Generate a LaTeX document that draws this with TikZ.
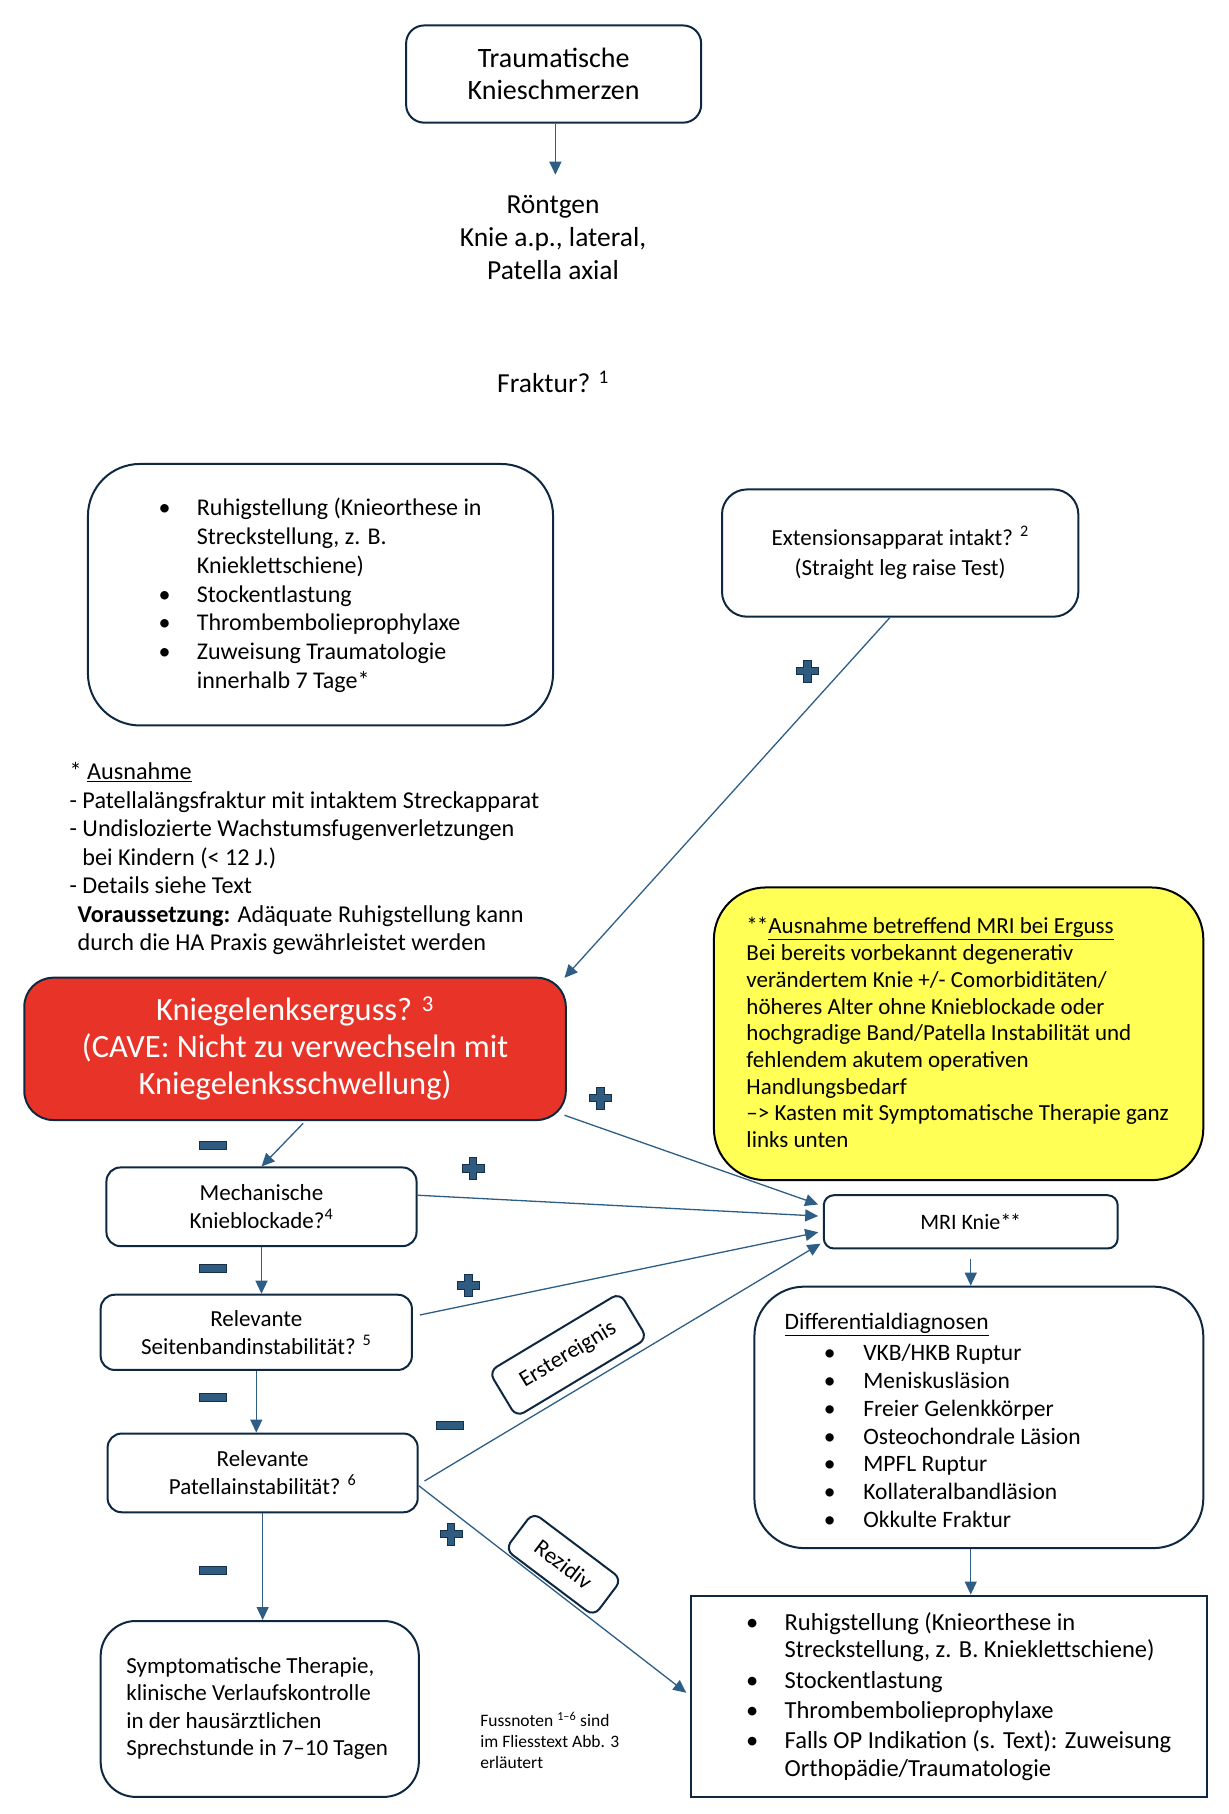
\documentclass[tikz,border=0pt]{standalone}
\usepackage{fontspec}
\setmainfont{Carlito}
\usetikzlibrary{arrows.meta,calc}
\newdimen\DU \DU=1.157pt
\definecolor{navy}{HTML}{0E2841}
\definecolor{arrc}{HTML}{2E5E86}
\definecolor{pmfill}{HTML}{2F5B80}
\definecolor{pmdraw}{HTML}{16304A}
\definecolor{redbox}{HTML}{E83428}
\definecolor{yelbox}{HTML}{FFFF55}
\newcommand\Bitem[2]{\hspace*{#1\DU}\makebox[0pt][c]{•}\hspace*{#2\DU}}
\newcommand\Bcont[1]{\hspace*{#1\DU}}
\newcommand\fsz[2]{\fontsize{#1}{#2}\selectfont}
\tikzset{
  plussign/.pic={\path[fill=pmfill,draw=pmdraw,line width=1pt]
    (-3.2,-9.5) -- (3.2,-9.5) -- (3.2,-3.2) -- (9.5,-3.2) -- (9.5,3.2) -- (3.2,3.2) -- (3.2,9.5)
    -- (-3.2,9.5) -- (-3.2,3.2) -- (-9.5,3.2) -- (-9.5,-3.2) -- (-3.2,-3.2) -- cycle;},
  minussign/.pic={\path[fill=pmfill,draw=pmdraw,line width=1pt] (-12,-3.4) rectangle (12,3.4);}
}
\begin{document}
\begin{tikzpicture}[x=1.157pt,y=-1.157pt,
  box/.style={draw=navy, line width=2pt, fill=white, inner sep=0pt, align=center},
  txt/.style={inner sep=0pt, align=left, anchor=west},
  arr/.style={draw=arrc, line width=1.3pt, -{Triangle[length=13pt,width=12pt]}},
  lbl/.style={draw=navy, line width=2pt, fill=white, rounded corners=9pt, inner sep=0pt, font={\fsz{23}{27}}}
]
\fill[white] (0,0) rectangle (1061.4,1567.8);
\useasboundingbox (0,0) rectangle (1061.4,1567.8);

% top
\node[box, rounded corners=18pt, minimum width=255*\DU, minimum height=84*\DU, font={\fsz{28}{32.4}}] (A) at (478.5,64) {Traumatische\\Knieschmerzen};
\node[inner sep=0pt, align=center, font={\fsz{27.5}{33}}] (xray) at (478,205.5) {Röntgen\\Knie a.p., lateral,\\Patella axial};
\node[inner sep=0pt, font={\fsz{27.5}{33}}] (frak) at (478,330) {Fraktur? \textsuperscript{1}};

% left fracture box
\node[box, rounded corners=52pt, minimum width=402*\DU, minimum height=226*\DU] (B) at (277,514) {};
\node[txt, font={\fsz{24}{28.7}}] (Btext) at (142,514.5) {\Bitem{0}{28}Ruhigstellung (Knieorthese in\\\Bcont{28}Streckstellung, z. B.\\\Bcont{28}Knieklettschiene)\\\Bitem{0}{28}Stockentlastung\\\Bitem{0}{28}Thrombembolieprophylaxe\\\Bitem{0}{28}Zuweisung Traumatologie\\\Bcont{28}innerhalb 7 Tage*};

\node[txt, font={\fsz{24.2}{28.5}}] (aus) at (60,742) {* \underline{Ausnahme}\\- Patellalängsfraktur mit intaktem Streckapparat\\- Undislozierte Wachstumsfugenverletzungen\\\Bcont{11}bei Kindern (< 12 J.)\\- Details siehe Text\\\Bcont{7}\textbf{Voraussetzung:} Adäquate Ruhigstellung kann\\\Bcont{7}durch die HA Praxis gewährleistet werden};

% extension box
\node[box, rounded corners=25pt, minimum width=308*\DU, minimum height=110*\DU, font={\fsz{23}{30}}] (C) at (778,478) {Extensionsapparat intakt? \textsuperscript{2}\\(Straight leg raise Test)};

% red box
\node[box, fill=redbox, text=white, rounded corners=29pt, minimum width=468*\DU, minimum height=123*\DU, font={\fsz{32.5}{37}}] (D) at (255,906.5) {Kniegelenkserguss? \textsuperscript{3}\\(CAVE: Nicht zu verwechseln mit\\Kniegelenksschwellung)};

% yellow box
\node[box, fill=yelbox, draw=black, rounded corners=52pt, minimum width=423*\DU, minimum height=253*\DU] (E) at (828.5,893.5) {};
\node[txt, font={\fsz{23}{26.7}}] (Etext) at (645,892.5) {*\kern-1pt*\underline{Ausnahme betreffend MRI bei Erguss}\\Bei bereits vorbekannt degenerativ\\verändertem Knie +/- Comorbiditäten/\\höheres Alter ohne Knieblockade oder\\hochgradige Band/Patella Instabilität und\\fehlendem akutem operativen\\Handlungsbedarf\\–> Kasten mit Symptomatische Therapie ganz\\links unten};

% question chain
\node[box, rounded corners=14pt, minimum width=268*\DU, minimum height=68*\DU, font={\fsz{23}{28}}] (F) at (226,1043) {Mechanische\\Knieblockade?\textsuperscript{4}};
\node[box, rounded corners=14pt, minimum width=269*\DU, minimum height=65*\DU, font={\fsz{23}{28}}] (G) at (221.5,1151.5) {Relevante\\Seitenbandinstabilität? \textsuperscript{5}};
\node[box, rounded corners=14pt, minimum width=268*\DU, minimum height=68*\DU, font={\fsz{23}{28}}] (H) at (227,1273) {Relevante\\Patellainstabilität? \textsuperscript{6}};

\node[box, rounded corners=35pt, minimum width=275*\DU, minimum height=152*\DU] (I) at (224.5,1477) {};
\node[txt, font={\fsz{23}{27.4}}] (Itext) at (109,1476.5) {Symptomatische Therapie,\\klinische Verlaufskontrolle\\in der hausärztlichen\\Sprechstunde in 7–10 Tagen};

\node[txt, font={\fsz{17.5}{20.8}}] (foot) at (415,1504) {Fussnoten \textsuperscript{1–6} sind\\im Fliesstext Abb. 3\\erläutert};

% right side
\node[box, rounded corners=10pt, minimum width=254*\DU, minimum height=46*\DU, font={\fsz{22}{26}}] (J) at (839,1056) {MRI Knie*\kern-1pt*};
\node[box, rounded corners=50pt, minimum width=388*\DU, minimum height=226*\DU] (K) at (846,1225) {};
\node[txt, font={\fsz{23.5}{27.8}}] (Ktext) at (678,1227.5) {\underline{Differentialdiagnosen}\\[3.5pt]\Bitem{39}{29}VKB/HKB Ruptur\\\Bitem{39}{29}Meniskusläsion\\\Bitem{39}{29}Freier Gelenkkörper\\\Bitem{39}{29}Osteochondrale Läsion\\\Bitem{39}{29}MPFL Ruptur\\\Bitem{39}{29}Kollateralbandläsion\\\Bitem{39}{29}Okkulte Fraktur};
\node[box, minimum width=446*\DU, minimum height=174*\DU] (L) at (820,1466) {};
\node[txt, font={\fsz{24.5}{27.8}}] (Ltext) at (650,1466) {\Bitem{0}{28}Ruhigstellung (Knieorthese in\\\Bcont{28}Streckstellung, z. B. Knieklettschiene)\\[2.3pt]\Bitem{0}{28}Stockentlastung\\[2.3pt]\Bitem{0}{28}Thrombembolieprophylaxe\\[2.3pt]\Bitem{0}{28}Falls OP Indikation (s. Text): Zuweisung\\\Bcont{28}Orthopädie/Traumatologie};

% connectors
\coordinate (xtop) at (480,151);
\draw[arr] (A.south -| xtop) -- (xtop);
\draw[arr] ($(C.south)+(-9,0)$) -- ($(D.north east)+(-2,1)$);
\draw[arr] ($(D.south)+(7,2)$) -- (F.north);
\draw[arr] ($(D.south east)+(-2,-5)$) -- ($(J.west)+(-4,-15)$);
\draw[arr] ($(F.east)+(0,-10)$) -- ($(J.west)+(-4,-5)$);
\draw[arr] ($(G.east)+(6,-15)$) -- ($(J.west)+(-4,9)$);
\draw[arr] ($(H.east)+(5,7)$) -- ($(J.south west)+(-2,-5)$);
\draw[arr] ($(H.east)+(0,11)$) -- ($(L.west)+(-3,-3)$);
\draw[arr] (F.south) -- (F.south |- G.north);
\draw[arr] (G.south) -- (G.south |- H.north);
\draw[arr] (H.south) -- (H.south |- I.north);
\draw[arr] ($(J.south)+(0,8)$) -- (J.south |- K.north);
\draw[arr] (J.south |- K.south) -- (J.south |- L.north);

% branch labels
\node[lbl, rotate=31, minimum width=132*\DU, minimum height=46*\DU] (erst) at (491,1171) {Erstereignis};
\node[lbl, rotate=-37, minimum width=96*\DU, minimum height=40*\DU] (rez) at (487,1352) {Rezidiv};

% plus / minus signs
\pic at (698,580) {plussign};
\pic at (519,949) {plussign};
\pic at (409,1010) {plussign};
\pic at (405,1111) {plussign};
\pic at (390,1326) {plussign};
\pic at (184,990) {minussign};
\pic at (184,1096) {minussign};
\pic at (184,1208) {minussign};
\pic at (389,1232) {minussign};
\pic at (184,1357) {minussign};
\end{tikzpicture}
\end{document}
